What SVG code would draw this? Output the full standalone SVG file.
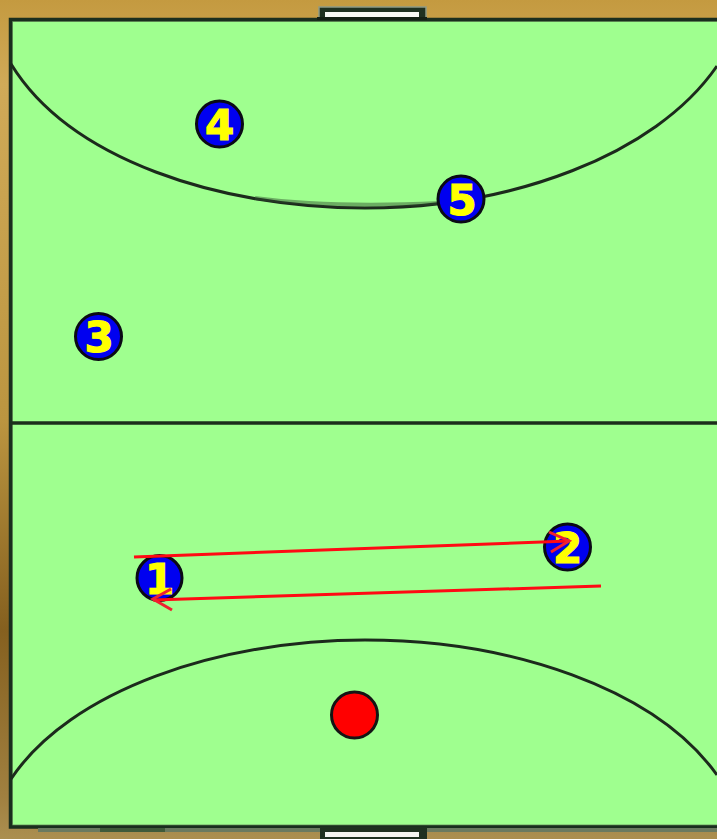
<svg xmlns="http://www.w3.org/2000/svg" width="717" height="839" viewBox="0 0 717 839">
  <defs>
    <linearGradient id="wood" x1="0" y1="0" x2="0" y2="1">
      <stop offset="0" stop-color="#c49a40"/>
      <stop offset="0.1" stop-color="#d0aa58"/>
      <stop offset="0.5" stop-color="#bb9540"/>
      <stop offset="0.75" stop-color="#85601f"/>
      <stop offset="0.95" stop-color="#a08040"/>
      <stop offset="1" stop-color="#ab8f50"/>
    </linearGradient>
  </defs>
  <style>
    .line{fill:none;stroke:#1c2a1c;stroke-width:3}
    .smudge{fill:none;stroke:#2c4a2c;stroke-width:4;stroke-opacity:.45}
    .player circle{fill:#0000f0;stroke:#0a0a14;stroke-width:3}
    .player text{font-family:"DejaVu Sans",sans-serif;font-weight:bold;font-size:42px;fill:#ffff00;stroke:#ffff00;stroke-width:1.200;text-anchor:middle}
    .pass{fill:none;stroke:#ff0a14;stroke-width:3}
    .head{fill:none;stroke:#f02030;stroke-width:3}
  </style>
  <rect id="surround" width="717" height="839" fill="url(#wood)"/>
  <g id="court">
    <rect x="10.500" y="19.500" width="720" height="807.500" fill="#9fff8f"/>
    <rect x="12" y="21" width="720" height="804.500" fill="none" stroke="#6f9f62" stroke-width="2"/>
    <rect x="10.500" y="19.500" width="720" height="807.500" fill="none" stroke="#1a2e1e" stroke-width="3.500"/>
    <rect x="38" y="828" width="62" height="4" fill="#6a7a60"/>
    <rect x="100" y="828" width="65" height="4" fill="#3f5a3a"/>
    <rect x="165" y="828" width="552" height="4" fill="#6a7a60"/>
    <path d="M12 423H717" fill="none" stroke="#1c2e1c" stroke-width="3.500"/>
    <path class="line" d="M11 64C70 160 220 208 365 208C510 208 655 156 717 66"/>
    <path class="smudge" d="M255 198Q330 208 440 203"/>
    <path class="line" d="M11 779C70 690 220 640 365 640C510 640 655 688 717 775"/>
  </g>
  <g id="goal-top">
    <rect x="319" y="7" width="107" height="11" fill="#1f3020" stroke="#8f9a85" stroke-width="1.500"/>
    <rect x="317" y="17" width="110" height="3" fill="#142014"/>
    <rect x="325" y="12" width="94" height="5" fill="#f8f8f4"/>
  </g>
  <g id="goal-bottom">
    <rect x="320" y="827" width="107" height="12" fill="#1f3020"/>
    <rect x="325" y="832" width="94" height="5" fill="#f4f4f0"/>
  </g>
  <g id="player-1" class="player"><circle cx="159.500" cy="578" r="22.500"/><text x="159.500" y="593.500">1</text></g>
  <g id="player-2" class="player"><circle cx="567.500" cy="547" r="23"/><text x="567.500" y="562.500">2</text></g>
  <g id="player-3" class="player"><circle cx="98.500" cy="336.500" r="23"/><text x="99" y="351.500">3</text></g>
  <g id="player-4" class="player"><circle cx="219.500" cy="124" r="23"/><text x="219.500" y="139.500">4</text></g>
  <g id="player-5" class="player"><circle cx="461" cy="199" r="23"/><text x="462" y="214.500">5</text></g>
  <g id="ball"><circle cx="354.500" cy="715" r="23" fill="#ff0000" stroke="#141414" stroke-width="3"/></g>
  <g id="connectors">
    <path class="pass" d="M134 557L569 541"/>
    <path class="head" d="M549 532L569 541L551 552"/>
    <path class="pass" d="M601 586L153 600"/>
    <path class="head" d="M171 589L153 599L172 610"/>
  </g>
</svg>
